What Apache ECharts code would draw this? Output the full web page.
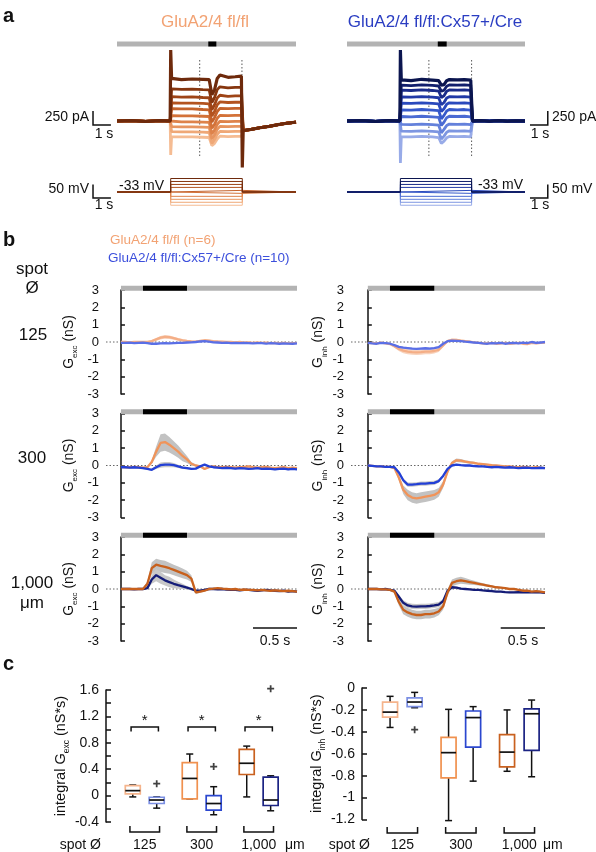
<!DOCTYPE html>
<html><head><meta charset="utf-8">
<script src="https://cdn.jsdelivr.net/npm/echarts@6/dist/echarts.min.js"></script>
<style>html,body{margin:0;padding:0;background:#fff}#c{width:596px;height:852px}</style>
</head><body><div id="c"></div>
<script>
const FONT = '"Liberation Sans", Arial, Helvetica, sans-serif';

/* ---------------- Panel a: example recordings ---------------- */
const aStepTimes = [3.05, 3.6, 4.2, 4.8, 5.15, 5.3, 5.45, 5.6, 5.75, 6.2, 6.6, 6.95];
const aCurLeft = [
  [760, 740, 750, 745, 740, 470, 560, 760, 820, 780, 790, 800],
  [575, 565, 570, 560, 555, 330, 420, 560, 610, 590, 600, 600],
  [435, 425, 430, 420, 415, 200, 290, 410, 460, 440, 450, 450],
  [325, 320, 320, 315, 305, 90, 170, 290, 340, 330, 335, 335],
  [220, 215, 215, 205, 200, -20, 60, 170, 225, 220, 225, 225],
  [95, 90, 90, 85, 80, -130, -60, 50, 100, 95, 100, 100],
  [-10, -15, -15, -20, -25, -230, -160, -60, -5, -10, -5, -5],
  [-100, -105, -105, -110, -115, -320, -250, -150, -95, -100, -95, -95],
  [-190, -195, -195, -200, -205, -400, -330, -240, -185, -190, -185, -185],
  [-280, -285, -285, -290, -295, -440, -400, -320, -270, -280, -275, -275]
];
const aCurRight = [
  [735, 720, 745, 730, 720, 640, 650, 720, 740, 735, 740, 730],
  [640, 630, 645, 635, 625, 530, 550, 620, 645, 640, 645, 635],
  [550, 545, 555, 545, 535, 420, 450, 530, 555, 550, 555, 545],
  [430, 425, 435, 425, 415, 290, 330, 410, 435, 430, 435, 425],
  [320, 315, 325, 315, 305, 170, 220, 300, 325, 320, 325, 315],
  [200, 195, 205, 195, 185, 40, 100, 180, 205, 200, 205, 195],
  [80, 75, 85, 75, 65, -80, -20, 60, 85, 80, 85, 75],
  [-60, -65, -55, -65, -75, -210, -150, -80, -55, -60, -55, -65],
  [-180, -185, -175, -185, -195, -320, -270, -200, -175, -180, -175, -185],
  [-280, -285, -275, -285, -295, -400, -360, -300, -275, -280, -275, -285]
];
const aPreT = [0, 0.8, 1.6, 2.4, 2.97];
const aPre = [0, 8, -6, 5, 0];
const aPostT = [7.05, 7.5, 8, 8.5, 9, 9.5, 10];
const aPostLeft = [-170, -150, -120, -95, -65, -40, -20];
const aPostRight = [0, 6, -4, 5, -3, 4, 0];
const aVoltLevels = [17, 6, -5, -16, -27, -38, -49, -60, -71, -82];
const aHold = -33;
const aColorsLeft = ['#6e2a0c','#86360f','#9e4417','#b3531f','#c4622b','#d37239','#de834b','#e79560','#efa877','#f5bc93'];
const aColorsRight = ['#0b154f','#121f6c','#1a2b89','#2139a6','#2a49bd','#3659cb','#4b6bd3','#6481db','#7d96e1','#98abe8'];

/* ---------------- Panel b: conductances ---------------- */
const tB = [0,0.05,0.1,0.15,0.2,0.25,0.3,0.35,0.4,0.45,0.5,0.55,0.6,0.65,0.7,0.75,0.8,0.85,0.9,0.95,1,1.05,1.1,1.15,1.2,1.25,1.3,1.35,1.4,1.45,1.5,1.55,1.6,1.65,1.7,1.75,1.8,1.85,1.9,1.95,2];
const bStim = [0.25, 0.75];

const excOr125 = [0,0,-0.02,0,0,0,0,0.05,0.15,0.25, 0.3,0.28,0.22,0.15,0.1,0.06,0.03,0.02,0.06,0.1, 0.08,0.05,0.03,0.02,0,0,-0.02,0,-0.03,-0.02, -0.05,-0.03,-0.05,-0.04,-0.06,-0.05,-0.07,-0.05,-0.08,-0.06, -0.07];
const excOr125Sem = [0.05,0.05,0.05,0.05,0.05,0.05,0.05,0.06,0.08,0.1, 0.1,0.1,0.09,0.08,0.07,0.06,0.06,0.06,0.06,0.06, 0.06,0.05,0.05,0.05,0.05,0.05,0.05,0.05,0.05,0.05, 0.05,0.05,0.05,0.05,0.05,0.05,0.05,0.05,0.05,0.05, 0.05];
const excBl125 = [-0.05,-0.05,-0.04,-0.06,-0.05,-0.04,-0.07,-0.1,-0.1,-0.08, -0.07,-0.08,-0.06,-0.05,-0.05,-0.03,-0.02,0,0.03,0.05, 0.02,-0.02,-0.03,-0.05,-0.04,-0.06,-0.05,-0.07,-0.05,-0.06, -0.08,-0.06,-0.07,-0.09,-0.07,-0.08,-0.1,-0.08,-0.09,-0.1, -0.08];
const excBl125Sem = [0.04,0.04,0.04,0.04,0.04,0.04,0.04,0.04,0.04,0.04, 0.04,0.04,0.04,0.04,0.04,0.04,0.04,0.04,0.04,0.04, 0.04,0.04,0.04,0.04,0.04,0.04,0.04,0.04,0.04,0.04, 0.04,0.04,0.04,0.04,0.04,0.04,0.04,0.04,0.04,0.04, 0.04];
const inhOr125 = [-0.05,-0.06,-0.08,-0.04,-0.08,-0.12,-0.25,-0.4,-0.5,-0.55, -0.58,-0.6,-0.58,-0.55,-0.55,-0.52,-0.45,-0.2,0.05,0.12, 0.12,0.08,0.05,0.02,-0.02,-0.05,-0.08,-0.08,-0.05,-0.1, -0.08,-0.05,-0.1,-0.08,-0.05,-0.1,-0.12,-0.05,-0.08,-0.05, -0.03];
const inhOr125Sem = [0.05,0.05,0.05,0.05,0.05,0.05,0.08,0.12,0.15,0.15, 0.15,0.15,0.15,0.15,0.15,0.15,0.12,0.1,0.08,0.08, 0.07,0.06,0.06,0.05,0.05,0.05,0.05,0.05,0.05,0.05, 0.05,0.05,0.05,0.05,0.05,0.05,0.05,0.05,0.05,0.05, 0.05];
const inhBl125 = [-0.05,-0.08,-0.1,-0.05,-0.06,-0.1,-0.18,-0.28,-0.33,-0.35, -0.38,-0.4,-0.38,-0.36,-0.38,-0.35,-0.3,-0.1,0.05,0.08, 0.07,0.05,0.02,0,-0.03,-0.05,-0.08,-0.1,-0.06,-0.08, -0.05,-0.1,-0.07,-0.05,-0.08,-0.04,-0.06,0,-0.05,-0.03, 0];
const inhBl125Sem = [0.04,0.04,0.04,0.04,0.04,0.04,0.05,0.06,0.06,0.06, 0.06,0.06,0.06,0.06,0.06,0.06,0.06,0.05,0.04,0.04, 0.04,0.04,0.04,0.04,0.04,0.04,0.04,0.04,0.04,0.04, 0.04,0.04,0.04,0.04,0.04,0.04,0.04,0.04,0.04,0.04, 0.04];

const excOr300 = [-0.08,-0.1,-0.1,-0.08,-0.1,-0.12,-0.1,0.2,0.8,1.3, 1.35,1.2,1.0,0.8,0.55,0.35,0.1,0,-0.05,-0.2, -0.1,-0.05,-0.1,-0.1,-0.08,-0.1,-0.12,-0.1,-0.08,-0.05, -0.1,-0.12,-0.1,-0.08,-0.12,-0.15,-0.12,-0.1,-0.15,-0.12, -0.15];
const excOr300Sem = [0.05,0.05,0.05,0.05,0.05,0.05,0.05,0.1,0.3,0.5, 0.5,0.45,0.4,0.35,0.3,0.2,0.1,0.06,0.05,0.05, 0.05,0.05,0.05,0.05,0.05,0.05,0.05,0.05,0.05,0.05, 0.05,0.05,0.05,0.05,0.05,0.05,0.05,0.05,0.05,0.05, 0.05];
const excBl300 = [-0.1,-0.1,-0.12,-0.1,-0.12,-0.15,-0.2,-0.25,-0.1,0.02, 0.05,0.05,0.02,-0.05,-0.12,-0.15,-0.2,-0.18,-0.05,0.05, -0.05,-0.1,-0.12,-0.15,-0.13,-0.15,-0.18,-0.15,-0.17,-0.2, -0.18,-0.15,-0.2,-0.18,-0.2,-0.22,-0.2,-0.18,-0.22,-0.2, -0.22];
const excBl300Sem = [0.05,0.05,0.05,0.05,0.05,0.05,0.05,0.06,0.1,0.15, 0.15,0.15,0.12,0.1,0.08,0.06,0.05,0.05,0.05,0.05, 0.05,0.05,0.05,0.05,0.05,0.05,0.05,0.05,0.05,0.05, 0.05,0.05,0.05,0.05,0.05,0.05,0.05,0.05,0.05,0.05, 0.05];
const inhOr300 = [0,-0.02,-0.05,-0.05,-0.08,-0.08,-0.15,-0.7,-1.4,-1.7, -1.85,-1.9,-1.85,-1.8,-1.75,-1.7,-1.55,-1.1,-0.35,0.15, 0.3,0.28,0.22,0.18,0.15,0.1,0.08,0.05,0.02,0, -0.02,-0.05,-0.05,-0.08,-0.1,-0.08,-0.1,-0.12,-0.1,-0.12, -0.15];
const inhOr300Sem = [0.04,0.04,0.04,0.04,0.04,0.04,0.06,0.15,0.25,0.3, 0.3,0.3,0.3,0.3,0.3,0.28,0.25,0.2,0.12,0.1, 0.1,0.1,0.08,0.08,0.06,0.05,0.05,0.05,0.05,0.05, 0.05,0.05,0.05,0.05,0.05,0.05,0.05,0.05,0.05,0.05, 0.05];
const inhBl300 = [0,-0.02,-0.05,-0.05,-0.08,-0.08,-0.1,-0.4,-0.85,-1.1, -1.1,-1.08,-1.05,-1.05,-1.02,-1.0,-0.9,-0.6,-0.2,0, 0.05,0.02,0,0,-0.03,-0.05,-0.05,-0.08,-0.1,-0.08, -0.1,-0.12,-0.1,-0.12,-0.15,-0.13,-0.12,-0.15,-0.15,-0.13, -0.15];
const inhBl300Sem = [0.04,0.04,0.04,0.04,0.04,0.04,0.05,0.08,0.12,0.12, 0.12,0.12,0.12,0.12,0.12,0.12,0.1,0.08,0.06,0.05, 0.05,0.05,0.05,0.05,0.05,0.05,0.05,0.05,0.05,0.05, 0.05,0.05,0.05,0.05,0.05,0.05,0.05,0.05,0.05,0.05, 0.05];

const excOr1000 = [0,0,0,0,0,0,0.3,1.2,1.4,1.33, 1.28,1.2,1.1,1.0,0.9,0.8,0.6,-0.2,-0.15,-0.1, 0,0.02,0.05,0.02,0,-0.02,0,-0.05,-0.03,-0.05, -0.05,-0.08,-0.05,-0.08,-0.1,-0.08,-0.1,-0.12,-0.1,-0.12, -0.15];
const excOr1000Sem = [0.04,0.04,0.04,0.04,0.04,0.04,0.15,0.35,0.35,0.35, 0.35,0.32,0.3,0.3,0.28,0.25,0.2,0.1,0.06,0.05, 0.05,0.05,0.05,0.05,0.05,0.05,0.05,0.05,0.05,0.05, 0.05,0.05,0.05,0.05,0.05,0.05,0.05,0.05,0.05,0.05, 0.05];
const excNv1000 = [0,0,0,-0.02,0,0,0.05,0.55,0.8,0.65, 0.5,0.4,0.3,0.22,0.15,0.08,0,-0.1,-0.1,-0.05, 0,0,-0.02,0,-0.03,-0.05,-0.05,-0.08,-0.05,-0.05, -0.08,-0.1,-0.08,-0.05,-0.08,-0.1,-0.12,-0.1,-0.15,-0.12, -0.15];
const excNv1000Sem = [0.04,0.04,0.04,0.04,0.04,0.04,0.06,0.25,0.35,0.35, 0.3,0.3,0.25,0.2,0.15,0.1,0.08,0.06,0.05,0.05, 0.05,0.05,0.05,0.05,0.05,0.05,0.05,0.05,0.05,0.05, 0.05,0.05,0.05,0.05,0.05,0.05,0.05,0.05,0.05,0.05, 0.05];
const inhOr1000 = [0,0,0,-0.02,-0.02,-0.05,-0.15,-0.75,-1.2,-1.35, -1.45,-1.5,-1.5,-1.45,-1.45,-1.4,-1.3,-1.0,-0.2,0.35, 0.45,0.5,0.45,0.4,0.35,0.3,0.25,0.2,0.15,0.1, 0.08,0.05,0,0,-0.05,-0.1,-0.1,-0.15,-0.12,-0.15, -0.2];
const inhOr1000Sem = [0.04,0.04,0.04,0.04,0.04,0.04,0.08,0.2,0.25,0.25, 0.25,0.25,0.25,0.25,0.25,0.25,0.22,0.2,0.2,0.2, 0.2,0.2,0.18,0.15,0.12,0.1,0.08,0.07,0.06,0.05, 0.05,0.05,0.05,0.05,0.05,0.05,0.05,0.05,0.05,0.05, 0.05];
const inhNv1000 = [0,0,0,-0.02,0,-0.05,-0.1,-0.45,-0.8,-0.95, -1.0,-1.02,-1.0,-1.0,-0.98,-0.95,-0.9,-0.7,-0.1,0.1, 0.08,0.02,0,-0.02,-0.05,-0.05,-0.08,-0.1,-0.12,-0.15, -0.15,-0.18,-0.2,-0.2,-0.18,-0.2,-0.2,-0.18,-0.2,-0.2, -0.22];
const inhNv1000Sem = [0.04,0.04,0.04,0.04,0.04,0.04,0.06,0.12,0.15,0.15, 0.15,0.15,0.15,0.15,0.15,0.15,0.15,0.12,0.1,0.08, 0.06,0.05,0.05,0.05,0.05,0.05,0.05,0.05,0.05,0.05, 0.05,0.05,0.05,0.05,0.05,0.05,0.05,0.05,0.05,0.05, 0.05];

/* ---------------- Panel c: integrals (min, Q1, median, Q3, max) ---------------- */
const cBoxPos = [1, 1.42, 2, 2.42, 3, 3.42];
const cGroups = [1, 2, 3];
const cGroupLabels = ['125', '300', '1,000'];
const excStats = [
  [-0.02, 0.025, 0.075, 0.15, 0.16],
  [-0.19, -0.12, -0.067, -0.025, -0.02],
  [-0.05, -0.05, 0.26, 0.5, 0.63],
  [-0.29, -0.22, -0.12, 0.0, 0.135],
  [-0.02, 0.32, 0.49, 0.7, 0.75],
  [-0.23, -0.15, -0.067, 0.28, 0.3]
];
const excOutliers = [[1.42, 0.18], [2.42, 0.44], [3.42, 1.62]];
const inhStats = [
  [-0.36, -0.265, -0.22, -0.128, -0.076],
  [-0.18, -0.17, -0.128, -0.09, -0.04],
  [-1.21, -0.82, -0.59, -0.45, -0.195],
  [-0.85, -0.54, -0.27, -0.21, -0.17],
  [-0.76, -0.72, -0.585, -0.425, -0.2],
  [-0.81, -0.57, -0.235, -0.19, -0.11]
];
const inhOutliers = [[1.42, -0.38]];
const excSigPairs = [[1, 1.42], [2, 2.42], [3, 3.42]];
const cBoxColors = ['#f5b48c', '#7b8fe3', '#f0914f', '#2b47cf', '#c9611f', '#1b2383'];

/* ---------------- build ---------------- */
const grids = [], xAxes = [], yAxes = [], series = [];
function addGrid(g, x, y) { grids.push(g); const i = grids.length - 1; xAxes.push(Object.assign({ type: 'value', gridIndex: i, show: false }, x)); yAxes.push(Object.assign({ type: 'value', gridIndex: i, show: false }, y)); return i; }
function line(gi, data, color, width, extra) {
  return Object.assign({ type: 'line', xAxisIndex: gi, yAxisIndex: gi, data, showSymbol: false, symbol: 'none', silent: true,
    lineStyle: { color, width }, itemStyle: { color } }, extra || {});
}

// panel a grids
const gA0 = addGrid({ left: 117, top: 42.6, width: 179, height: 123.2 }, { min: 0, max: 10 }, { min: -800, max: 1400 });
const gA1 = addGrid({ left: 117, top: 172.3, width: 179, height: 37.8 }, { min: 0, max: 10 }, { min: -100, max: 40 });
const gA2 = addGrid({ left: 347, top: 42.6, width: 178, height: 123.2 }, { min: 0, max: 10 }, { min: -800, max: 1400 });
const gA3 = addGrid({ left: 347, top: 172.3, width: 178, height: 37.8 }, { min: 0, max: 10 }, { min: -100, max: 40 });

function buildCurrent(gi, levels, colors, post, onUp, onDown, offDown) {
  for (let k = levels.length - 1; k >= 0; k--) {
    const vals = levels[k];
    const d = aPreT.map((t, i) => [t, aPre[i]]);
    d.push([3.0, 0]);
    if (k === 0) d.push([3.0, onUp]);
    if (k === levels.length - 1) d.push([3.0, onDown]);
    aStepTimes.forEach((t, i) => d.push([t, vals[i]]));
    d.push([7.0, vals[vals.length - 1]]);
    if (k === 0 && offDown != null) d.push([7.0, offDown]);
    aPostT.forEach((t, i) => d.push([t, post[i]]));
    series.push(line(gi, d, colors[k], k === 0 ? 3.2 : 2.8, { z: 3 }));
  }
}
function buildVoltage(gi, colors) {
  for (let k = aVoltLevels.length - 1; k >= 0; k--) {
    const v = aVoltLevels[k];
    series.push(line(gi, [[0, aHold], [3, aHold], [3, v], [7, v], [7, aHold], [10, aHold]], colors[k], 1, { z: 3 }));
  }
}
function stimBarA(gi, on) {
  series.push(line(gi, [[0, 1375], [10, 1375]], '#b3b3b3', 5, { z: 2 }));
  series.push(line(gi, [[on[0], 1375], [on[1], 1375]], '#000', 5, { z: 2 }));
}
function dottedA(gi, ts) {
  ts.forEach(t => series.push(line(gi, [[t, 1089], [t, -660]], '#555', 1, { z: 1, lineStyle: { color: '#555', width: 1, type: [1.5, 2] } })));
}
stimBarA(gA0, [5.1, 5.55]);
stimBarA(gA2, [5.1, 5.6]);
dottedA(gA0, [4.62, 6.98]);
dottedA(gA2, [4.6, 7.0]);
buildCurrent(gA0, aCurLeft, aColorsLeft, aPostLeft, 1268, -607, -840);
buildCurrent(gA2, aCurRight, aColorsRight, aPostRight, 1268, -750, null);
buildVoltage(gA1, aColorsLeft);
buildVoltage(gA3, aColorsRight);
// scale bars (1 s, 250 pA / 50 mV), in data units of each panel
const scaleBars = [
  [gA0, [[-1.34, 179], [-1.34, -71], [-0.34, -71]]],
  [gA1, [[-1.34, -5], [-1.34, -55], [-0.34, -55]]],
  [gA2, [[10.28, -71], [11.28, -71], [11.28, 179]]],
  [gA3, [[10.28, -55], [11.28, -55], [11.28, -5]]]
];

// panel b grids
const rowTops = [290, 413.5, 537];
function yAxisB(sub) {
  return { show: true, min: -3, max: 3, interval: 1,
    axisLine: { show: true, lineStyle: { color: '#111', width: 1.5 } },
    axisTick: { show: true, inside: true, length: 4, lineStyle: { color: '#111', width: 1.5 } },
    axisLabel: { fontSize: 13, color: '#111', fontFamily: FONT, margin: 7 },
    splitLine: { show: false },
    name: '{m|G}{s|' + sub + '}{m| (nS)}', nameLocation: 'middle', nameGap: sub === 'exc' ? 27 : 22,
    nameTextStyle: { rich: {
      m: { fontSize: 14, fontFamily: FONT, color: '#111', lineHeight: 20 },
      s: { fontSize: 8, fontFamily: FONT, color: '#111', lineHeight: 9, verticalAlign: 'bottom' } } } };
}
const bRows = [
  { exc: [excOr125, excOr125Sem, excBl125, excBl125Sem], inh: [inhOr125, inhOr125Sem, inhBl125, inhBl125Sem],
    or: '#f4ae86', bl: '#5a6fe6', bandOr: '#f8d3bd', bandBl: '#c6cdf3', orTop: false },
  { exc: [excOr300, excOr300Sem, excBl300, excBl300Sem], inh: [inhOr300, inhOr300Sem, inhBl300, inhBl300Sem],
    or: '#f0945a', bl: '#2340d6', bandOr: '#c2c2c2', bandBl: '#c8c8c8', orTop: false },
  { exc: [excOr1000, excOr1000Sem, excNv1000, excNv1000Sem], inh: [inhOr1000, inhOr1000Sem, inhNv1000, inhNv1000Sem],
    or: '#c8601c', bl: '#141c78', bandOr: '#c2c2c2', bandBl: '#c8c8c8', orTop: true }
];
function band(gi, mean, sem, color) {
  return { type: 'custom', xAxisIndex: gi, yAxisIndex: gi, silent: true, z: 1, clip: false,
    data: [[0, 0]],
    renderItem: (p, api) => {
      const pts = [];
      for (let i = 0; i < tB.length; i++) pts.push(api.coord([tB[i], mean[i] + sem[i]]));
      for (let i = tB.length - 1; i >= 0; i--) pts.push(api.coord([tB[i], mean[i] - sem[i]]));
      return { type: 'polygon', shape: { points: pts }, style: { fill: color } };
    } };
}
bRows.forEach((row, r) => {
  ['exc', 'inh'].forEach((kind, c) => {
    const left = c === 0 ? 106 : 351, width = c === 0 ? 191 : 194, xmin = c === 0 ? -0.17 : -0.19;
    const gi = addGrid({ left, top: rowTops[r], width, height: 104 }, { min: xmin, max: 2.0 }, yAxisB(kind));
    const [om, os, bm, bs] = row[kind];
    series.push(line(gi, [[xmin, 0], [2.0, 0]], '#666', 1, { z: 0, lineStyle: { color: '#666', width: 1, type: [1.5, 2] } }));
    series.push(line(gi, [[0, 3.1], [2.0, 3.1]], '#b3b3b3', 5, { clip: false, z: 2 }));
    series.push(line(gi, [[bStim[0], 3.1], [bStim[1], 3.1]], '#000', 5, { clip: false, z: 2 }));
    series.push(band(gi, om, os, row.bandOr));
    series.push(band(gi, bm, bs, row.bandBl));
    series.push(line(gi, tB.map((t, i) => [t, om[i]]), row.or, 2.3, { z: row.orTop ? 4 : 3 }));
    series.push(line(gi, tB.map((t, i) => [t, bm[i]]), row.bl, 2.3, { z: row.orTop ? 3 : 4 }));
    if (r === 2) series.push(line(gi, [[1.5, -2.25], [2.0, -2.25]], '#111', 1.5, { clip: false, z: 5 }));
  });
});

// panel c grids
function yAxisC(min, max, sub, gap, fmt) {
  return { show: true, min, max, interval: 0.2,
    axisLine: { show: true, lineStyle: { color: '#111', width: 1.5 } },
    axisTick: { show: true, inside: true, length: 5, lineStyle: { color: '#111', width: 1.5 } },
    axisLabel: { fontSize: 14, color: '#111', fontFamily: FONT, margin: 7, formatter: fmt },
    splitLine: { show: false },
    name: '{m|integral G}{s|' + sub + '}{m| (nS*s)}', nameLocation: 'middle', nameGap: gap,
    nameTextStyle: { rich: {
      m: { fontSize: 14.5, fontFamily: FONT, color: '#111', lineHeight: 20 },
      s: { fontSize: 8.5, fontFamily: FONT, color: '#111', lineHeight: 9, verticalAlign: 'bottom' } } } };
}
const fmtExc = v => { const r = Math.round(v * 10); return (Math.abs(r % 4) === 0) ? String(r / 10) : ''; };
const fmtInh = v => String(Math.round(v * 10) / 10);
const gC0 = addGrid({ left: 106, top: 690, width: 192, height: 132 }, { min: 0.53, max: 3.9 }, yAxisC(-0.4, 1.6, 'exc', 34, fmtExc));
const gC1 = addGrid({ left: 362, top: 688, width: 197.7, height: 131.5 }, { min: 0.52, max: 3.9 }, yAxisC(-1.2, 0, 'inh', 27, fmtInh));

function boxSeries(gi, stats) {
  return { type: 'custom', xAxisIndex: gi, yAxisIndex: gi, silent: true, clip: false, z: 3,
    data: stats.map((s, i) => [cBoxPos[i]].concat(s)),
    encode: { x: 0, y: [1, 2, 3, 4, 5] },
    renderItem: (p, api) => {
      const x = api.value(0);
      const pMin = api.coord([x, api.value(1)]), pQ1 = api.coord([x, api.value(2)]), pMed = api.coord([x, api.value(3)]);
      const pQ3 = api.coord([x, api.value(4)]), pMax = api.coord([x, api.value(5)]);
      const c = cBoxColors[p.dataIndex], hw = 7.5, cw = 3.5, cx = pMed[0];
      const ks = { stroke: '#111', lineWidth: 1.5 };
      return { type: 'group', children: [
        { type: 'line', shape: { x1: cx, y1: pMin[1], x2: cx, y2: pQ1[1] }, style: ks },
        { type: 'line', shape: { x1: cx, y1: pQ3[1], x2: cx, y2: pMax[1] }, style: ks },
        { type: 'line', shape: { x1: cx - cw, y1: pMin[1], x2: cx + cw, y2: pMin[1] }, style: ks },
        { type: 'line', shape: { x1: cx - cw, y1: pMax[1], x2: cx + cw, y2: pMax[1] }, style: ks },
        { type: 'rect', shape: { x: cx - hw, y: pQ3[1], width: 2 * hw, height: pQ1[1] - pQ3[1] }, style: { fill: '#fff', stroke: c, lineWidth: 1.7 } },
        { type: 'line', shape: { x1: cx - hw, y1: pMed[1], x2: cx + hw, y2: pMed[1] }, style: { stroke: '#111', lineWidth: 1.7 } }
      ] };
    } };
}
const plusSym = 'path://M3,0H5V3H8V5H5V8H3V5H0V3H3Z';
function outliers(gi, pts) {
  return { type: 'scatter', xAxisIndex: gi, yAxisIndex: gi, data: pts, symbol: plusSym, symbolSize: 7, silent: true, clip: false, z: 4, itemStyle: { color: '#111' } };
}
function groupMarks(gi, yTop, yBot, yLab) {
  return { type: 'custom', xAxisIndex: gi, yAxisIndex: gi, silent: true, clip: false, z: 3,
    data: cGroups.map(g => [g, yBot]),
    renderItem: (p, api) => {
      const g = api.value(0);
      const a = api.coord([g - 0.05, yTop]), b = api.coord([g + 0.47, yBot]), lab = api.coord([g + 0.21, yLab]);
      return { type: 'group', children: [
        { type: 'polyline', shape: { points: [[a[0], a[1]], [a[0], b[1]], [b[0], b[1]], [b[0], a[1]]] }, style: { stroke: '#111', lineWidth: 1.5, fill: null } },
        { type: 'text', x: lab[0], y: lab[1], style: { text: cGroupLabels[p.dataIndex], fontSize: 14, fontFamily: FONT, fill: '#111', align: 'center', verticalAlign: 'middle' } }
      ] };
    } };
}
function sigMarks(gi, pairs, yTop, yLeg, yStar) {
  return { type: 'custom', xAxisIndex: gi, yAxisIndex: gi, silent: true, clip: false, z: 3,
    data: pairs.map(p => [p[0], yTop, p[1]]),
    renderItem: (p, api) => {
      const a = api.coord([api.value(0) - 0.03, yLeg]), b = api.coord([api.value(2) + 0.03, api.value(1)]);
      const s = api.coord([(api.value(0) + api.value(2)) / 2, yStar]);
      return { type: 'group', children: [
        { type: 'polyline', shape: { points: [[a[0], a[1]], [a[0], b[1]], [b[0], b[1]], [b[0], a[1]]] }, style: { stroke: '#111', lineWidth: 1.5, fill: null } },
        { type: 'text', x: s[0], y: s[1], style: { text: '*', fontSize: 15, fontFamily: FONT, fill: '#111', align: 'center', verticalAlign: 'middle' } }
      ] };
    } };
}
series.push(boxSeries(gC0, excStats), outliers(gC0, excOutliers), groupMarks(gC0, -0.46, -0.55, -0.75), sigMarks(gC0, excSigPairs, 1.04, 0.97, 1.14));
series.push(boxSeries(gC1, inhStats), outliers(gC1, inhOutliers), groupMarks(gC1, -1.268, -1.323, -1.436));

/* ---------------- texts ---------------- */
function T(x, y, text, o) {
  o = o || {};
  return { type: 'text', x, y, silent: true, z: 10, style: { text, fontSize: o.size || 14, fontFamily: FONT, fontWeight: o.bold ? 'bold' : 'normal',
    fill: o.color || '#111', align: o.align || 'center', verticalAlign: 'middle' } };
}
const graphic = [
  T(3, 16, 'a', { size: 20, bold: true, align: 'left' }),
  T(205, 22, 'GluA2/4 fl/fl', { size: 17, color: '#f2a273' }),
  T(435, 22, 'GluA2/4 fl/fl:Cx57+/Cre', { size: 17, color: '#2a3dc2' }),
  T(89, 117, '250 pA', { align: 'right' }),
  T(104, 134, '1 s'),
  T(89, 189, '50 mV', { align: 'right' }),
  T(104, 205, '1 s'),
  T(119, 186, '-33 mV', { align: 'left' }),
  T(523, 185, '-33 mV', { align: 'right' }),
  T(552, 117, '250 pA', { align: 'left' }),
  T(540, 134, '1 s'),
  T(552, 189, '50 mV', { align: 'left' }),
  T(540, 205, '1 s'),
  T(3, 240, 'b', { size: 20, bold: true, align: 'left' }),
  T(110, 240, 'GluA2/4 fl/fl (n=6)', { size: 13.5, color: '#f2a273', align: 'left' }),
  T(108, 258, 'GluA2/4 fl/fl:Cx57+/Cre (n=10)', { size: 13.5, color: '#3c4fdc', align: 'left' }),
  T(32, 269, 'spot', { size: 17 }),
  T(32, 288, 'Ø', { size: 17 }),
  T(33, 335, '125', { size: 17 }),
  T(32, 458, '300', { size: 17 }),
  T(32, 583, '1,000', { size: 17 }),
  T(32, 603, 'μm', { size: 17 }),
  T(275, 641, '0.5 s'),
  T(523, 641, '0.5 s'),
  T(3, 664, 'c', { size: 20, bold: true, align: 'left' }),
  T(101, 845, 'spot Ø', { align: 'right' }),
  T(285, 845, 'μm', { align: 'left' }),
  T(370, 845, 'spot Ø', { align: 'right' }),
  T(543, 845, 'μm', { align: 'left' })
];

const chart = echarts.init(document.getElementById('c'), null, { width: 596, height: 852 });
chart.setOption({ animation: false, backgroundColor: '#fff', grid: grids, xAxis: xAxes, yAxis: yAxes, series, graphic });
// scale bars placed through each panel's own axes
const barGraphics = scaleBars.map(([gi, pts]) => ({
  type: 'polyline', silent: true, z: 10,
  shape: { points: pts.map(p => chart.convertToPixel({ gridIndex: gi }, p)) },
  style: { stroke: '#111', lineWidth: 1.5, fill: null }
}));
chart.setOption({ graphic: graphic.concat(barGraphics) });
</script></body></html>
